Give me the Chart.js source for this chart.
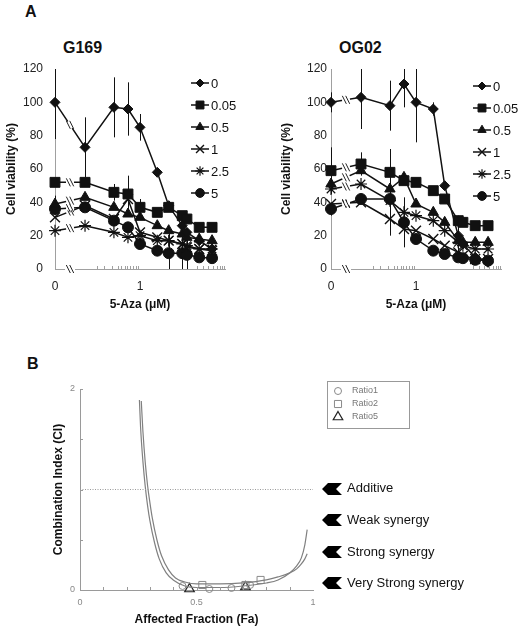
<!DOCTYPE html>
<html>
<head>
<meta charset="utf-8">
<script src="https://cdn.jsdelivr.net/npm/chart.js@4.4.1/dist/chart.umd.min.js"></script>
<style>
  body { margin: 0; background: #fff; }
  #page { position: relative; width: 524px; height: 632px; overflow: hidden; font-family: Arial, "Liberation Sans", sans-serif; color: #111; }
  canvas { position: absolute; }
  .t { position: absolute; line-height: 1; white-space: nowrap; }
  .b { font-weight: bold; }
  .note { position: absolute; left: 347px; font-size: 13px; line-height: 14px; white-space: nowrap; }
  .arrow { position: absolute; left: 322px; }
</style>
</head>
<body>
<div id="page">
  <div class="t b" style="left:25px;top:4px;font-size:16px">A</div>
  <div class="t b" style="left:63px;top:40px;font-size:16px">G169</div>
  <div class="t b" style="left:339px;top:40px;font-size:16px">OG02</div>
  <div class="t b" style="left:27px;top:356px;font-size:16px">B</div>
  <canvas id="g169" width="262" height="320" style="left:0;top:0"></canvas>
  <canvas id="og02" width="262" height="320" style="left:262px;top:0"></canvas>
  <canvas id="ci" width="420" height="262" style="left:0;top:370px"></canvas>

  <svg class="arrow" style="top:483px" width="20" height="12"><polygon points="0,6 6,0 20,0 14,6 20,12 6,12" fill="#000"/></svg>
  <svg class="arrow" style="top:514px" width="20" height="12"><polygon points="0,6 6,0 20,0 14,6 20,12 6,12" fill="#000"/></svg>
  <svg class="arrow" style="top:546px" width="20" height="12"><polygon points="0,6 6,0 20,0 14,6 20,12 6,12" fill="#000"/></svg>
  <svg class="arrow" style="top:577px" width="20" height="12"><polygon points="0,6 6,0 20,0 14,6 20,12 6,12" fill="#000"/></svg>
  <div class="note" style="top:481px">Additive</div>
  <div class="note" style="top:513px">Weak synergy</div>
  <div class="note" style="top:545px">Strong synergy</div>
  <div class="note" style="top:576px">Very Strong synergy</div>
</div>
<script>
// --- data ---------------------------------------------------------------------
// 5-Aza concentrations (uM), plotted on a log axis with a break for 0
const CONC = [0, 0.13, 0.38, 0.64, 1, 1.9, 2.9, 4.8, 5.7, 9, 14.5];
const DOSES = ["0", "0.05", "0.5", "1", "2.5", "5"];

// G169 cell viability (%) per dose of the partner drug
const G169_0    = [100, 73, 97, 96, 85, 58, 38, 26, 22, 17, 12];
const G169_005  = [52, 52, 46, 45, 37, 34, 37, 32, 30, 25, 25];
const G169_05   = [39, 43, 37, 33, 31, 26, 23, 21, 19, 18, 17];
const G169_1    = [31, 38, 30, 42, 22, 19, 17, 15, 13, 12, 11];
const G169_25   = [23, 26, 22, 19, 20, 17, 17, 15, 14, 12, 12];
const G169_5    = [36, 37, 29, 25, 15, 11, 9.5, 9.5, 8.5, 7, 6.5];
const G169_0_SD   = [22, 18, 18, 16, 8, 0, 0, 0, 0, 0, 0];
const G169_005_SD = [0, 0, 5, 11, 5, 0, 0, 0, 0, 0, 0];
const G169_05_SD  = [5, 0, 0, 0, 0, 0, 0, 0, 0, 0, 0];
const G169_1_SD   = [0, 0, 0, 0, 0, 0, 0, 0, 0, 0, 0];
const G169_25_SD  = [0, 0, 0, 0, 0, 0, 0, 0, 0, 0, 0];
const G169_5_SD   = [0, 0, 0, 0, 0, 0, 14, 14, 14, 0, 0];

// OG02 cell viability (%)
const OG02_0    = [100, 103, 98, 111, 100, 96, 50, 20, 15, 7, 4];
const OG02_005  = [59, 63, 58, 53, 52, 47, 42, 29, 28, 26, 26];
const OG02_05   = [51, 59, 48, 55, 39, 34, 28, 17, 16, 16, 16];
const OG02_1    = [39, 40, 30, 24, 23, 18, 14, 10, 8, 6, 6];
const OG02_25   = [48, 51, 41, 34, 32, 29, 23, 16, 14, 12, 12];
const OG02_5    = [36, 42, 42, 28, 18, 11, 9, 7, 6.5, 5.5, 5];
const OG02_0_SD   = [6, 19, 15, 14, 24, 4, 0, 12, 0, 0, 0];
const OG02_005_SD = [14, 7, 14, 0, 0, 0, 0, 0, 0, 0, 0];
const OG02_05_SD  = [0, 0, 0, 0, 0, 0, 0, 0, 0, 0, 0];
const OG02_1_SD   = [0, 0, 10, 0, 0, 0, 0, 0, 0, 0, 0];
const OG02_25_SD  = [0, 0, 0, 0, 0, 0, 0, 0, 0, 0, 0];
const OG02_5_SD   = [4, 0, 0, 15, 0, 0, 0, 0, 0, 0, 0];

// minor log ticks on the 5-Aza axis (uM)
const AZA_MINOR = [0.2, 0.26, 0.35, 0.44, 0.49, 0.57, 0.62, 0.69, 0.77, 0.86, 0.93,
                   8.3, 10.4, 12.5, 15, 17.4, 19.5, 21, 22.6];

// panel B: Fa-CI simulation curves and measured combination points
const CURVE1_FA = [0.255, 0.26, 0.27, 0.28, 0.29, 0.30, 0.32, 0.34, 0.37, 0.40, 0.45, 0.50, 0.60, 0.70, 0.80, 0.85, 0.90, 0.93, 0.95, 0.965, 0.975];
const CURVE1_CI = [1.89, 1.62, 1.28, 1.03, 0.84, 0.69, 0.47, 0.31, 0.17, 0.10, 0.04, 0.025, 0.025, 0.04, 0.07, 0.10, 0.17, 0.24, 0.32, 0.45, 0.60];
const CURVE2_FA = [0.263, 0.27, 0.28, 0.29, 0.30, 0.31, 0.33, 0.35, 0.38, 0.41, 0.45, 0.50, 0.60, 0.70, 0.80, 0.85, 0.90, 0.93, 0.95, 0.965, 0.975];
const CURVE2_CI = [1.88, 1.58, 1.27, 1.04, 0.87, 0.72, 0.50, 0.34, 0.20, 0.12, 0.08, 0.06, 0.06, 0.07, 0.10, 0.13, 0.17, 0.21, 0.26, 0.31, 0.36];
const RATIO1_FA = [0.44, 0.555, 0.65, 0.73];
const RATIO1_CI = [0.04, 0.01, 0.02, 0.05];
const RATIO2_FA = [0.525, 0.71, 0.775];
const RATIO2_CI = [0.05, 0.05, 0.10];
const RATIO5_FA = [0.47, 0.71];
const RATIO5_CI = [0.01, 0.03];

// --- helpers -----------------------------------------------------------------
const F = 'Arial, "Liberation Sans", sans-serif';
const XMIN = -1.37, XMAX = 1.37;             // log10 range of the 5-Aza axis
const xPos = c => (c === 0 ? XMIN : Math.log10(c));
const MARK = [
  { ps: "rectRot", r: 5, bw: 1 },
  { ps: "rect", r: 7, bw: 1 },
  { ps: "triangle", r: 6, bw: 1 },
  { ps: "crossRot", r: 7, bw: 1.4 },
  { ps: "star", r: 6, bw: 1.2 },
  { ps: "circle", r: 5.5, bw: 1 },
];

// vertical SD bars, clipped to the plot box
const errorBars = {
  id: "errorBars",
  beforeDatasetsDraw(chart) {
    const { ctx, chartArea: a, scales: { y } } = chart;
    ctx.save();
    ctx.beginPath();
    ctx.rect(a.left, a.top, a.right - a.left, a.bottom - a.top);
    ctx.clip();
    ctx.strokeStyle = "#111";
    ctx.lineWidth = 1;
    chart.data.datasets.forEach((ds, i) => {
      if (!ds.sd) return;
      const meta = chart.getDatasetMeta(i);
      ds.sd.forEach((s, j) => {
        if (!s) return;
        const px = Math.round(meta.data[j].x) + 0.5, v = ds.data[j].y;
        ctx.beginPath();
        ctx.moveTo(px, y.getPixelForValue(v - s));
        ctx.lineTo(px, y.getPixelForValue(v + s));
        ctx.stroke();
      });
    });
    ctx.restore();
  },
};

// "\\" break marks between the 0 point and the first dose, on every line and on the axis
function breakMark(ctx, x, y) {
  ctx.strokeStyle = "#222";
  ctx.lineWidth = 1;
  for (const o of [-1.7, 1.7]) {
    ctx.beginPath();
    ctx.moveTo(x + o - 2, y - 4);
    ctx.lineTo(x + o + 2, y + 4);
    ctx.stroke();
  }
}
const breaks = {
  id: "breaks",
  afterDatasetsDraw(chart) {
    const { ctx, chartArea: a } = chart;
    ctx.save();
    chart.data.datasets.forEach((ds, i) => {
      const m = chart.getDatasetMeta(i);
      const p0 = m.data[0], p1 = m.data[1];
      const mx = (p0.x + p1.x) / 2, my = (p0.y + p1.y) / 2;
      const dx = p1.x - p0.x, dy = p1.y - p0.y, L = Math.hypot(dx, dy);
      const ux = dx / L, uy = dy / L;
      ctx.strokeStyle = "#fff";
      ctx.lineWidth = 4;
      ctx.beginPath();
      ctx.moveTo(mx - 4 * ux, my - 4 * uy);
      ctx.lineTo(mx + 4 * ux, my + 4 * uy);
      ctx.stroke();
      breakMark(ctx, mx, my);
    });
    const xs = chart.scales.x;
    const bx = (xs.getPixelForValue(xPos(CONC[0])) + xs.getPixelForValue(xPos(CONC[1]))) / 2;
    ctx.fillStyle = "#fff";
    ctx.fillRect(bx - 5, a.bottom - 2, 10, 4);
    breakMark(ctx, bx, a.bottom);
    ctx.restore();
  },
};

// small inward tick marks
const minorTicks = {
  id: "minorTicks",
  afterDraw(chart, args, o) {
    const { ctx, chartArea: a, scales: { x, y } } = chart;
    ctx.save();
    ctx.strokeStyle = o.color || "#999";
    ctx.lineWidth = 1;
    (o.x || []).forEach(v => {
      const px = Math.round(x.getPixelForValue(v)) + 0.5;
      ctx.beginPath(); ctx.moveTo(px, a.bottom); ctx.lineTo(px, a.bottom - 3); ctx.stroke();
    });
    (o.y || []).forEach(v => {
      const py = Math.round(y.getPixelForValue(v)) + 0.5;
      ctx.beginPath(); ctx.moveTo(a.left, py); ctx.lineTo(a.left + 3, py); ctx.stroke();
    });
    ctx.restore();
  },
};

function marker(ctx, ds, x, y, scale) {
  const opts = { pointStyle: ds.pointStyle, radius: ds.pointRadius * scale, rotation: 0, borderWidth: ds.pointBorderWidth };
  if (Chart.helpers && Chart.helpers.drawPoint) {
    Chart.helpers.drawPoint(ctx, opts, x, y);
  } else {
    ctx.beginPath(); ctx.arc(x, y, opts.radius, 0, Math.PI * 2); ctx.fill(); ctx.stroke();
  }
}

// line + marker legend stacked at the upper right of each viability panel
const sideLegend = {
  id: "sideLegend",
  afterDraw(chart, args, o) {
    const ctx = chart.ctx;
    ctx.save();
    chart.data.datasets.forEach((ds, i) => {
      const y = o.top + i * o.step;
      ctx.strokeStyle = "#111";
      ctx.fillStyle = "#111";
      ctx.lineWidth = 1.5;
      ctx.beginPath(); ctx.moveTo(o.left, y); ctx.lineTo(o.left + 18, y); ctx.stroke();
      ctx.lineWidth = ds.pointBorderWidth;
      marker(ctx, ds, o.left + 9, y, 0.8);
      ctx.font = "13px " + F;
      ctx.textBaseline = "middle";
      ctx.textAlign = "left";
      ctx.fillStyle = "#111";
      ctx.fillText(ds.label, o.left + 20, y + 1);
    });
    ctx.restore();
  },
};

function viabilityChart(id, series, sds, lay) {
  const datasets = series.map((vals, k) => ({
    label: DOSES[k],
    data: vals.map((v, i) => ({ x: xPos(CONC[i]), y: v })),
    sd: sds[k],
    borderColor: "#111",
    backgroundColor: "#111",
    borderWidth: 1.5,
    pointStyle: MARK[k].ps,
    pointRadius: MARK[k].r,
    pointBorderWidth: MARK[k].bw,
    pointBackgroundColor: "#111",
    pointBorderColor: "#111",
    tension: 0,
    clip: false,
  }));
  return new Chart(document.getElementById(id), {
    type: "line",
    data: { datasets },
    options: {
      responsive: false,
      animation: false,
      events: [],
      layout: { padding: { left: lay.padLeft, top: 69, right: lay.padRight, bottom: 4 } },
      scales: {
        x: {
          type: "linear", min: XMIN, max: XMAX,
          afterBuildTicks: s => { s.ticks = [{ value: XMIN }, { value: 0 }]; },
          afterFit: s => { s.height = 47; },
          ticks: { autoSkip: false, maxRotation: 0, padding: 10, color: "#222", font: { size: 12, family: F },
                   callback: v => (v === 0 ? "1" : "0") },
          grid: { drawOnChartArea: false, drawTicks: false },
          border: { color: "#a0a0a0", width: 1 },
          title: { display: true, text: "5-Aza (μM)", color: "#111", font: { size: 12, weight: "bold", family: F } },
        },
        y: {
          min: 0, max: 120,
          afterFit: s => { s.width = lay.yWidth; },
          ticks: { stepSize: 20, padding: lay.yPad, color: "#222", font: { size: 12, family: F } },
          grid: { drawOnChartArea: false, drawTicks: false },
          border: { color: "#a0a0a0", width: 1 },
          title: { display: true, text: "Cell viability (%)", color: "#111", font: { size: 12, weight: "bold", family: F } },
        },
      },
      plugins: {
        legend: { display: false },
        tooltip: { enabled: false },
        minorTicks: { x: AZA_MINOR.map(xPos), color: "#a0a0a0" },
        sideLegend: lay.legend,
      },
    },
    plugins: [errorBars, breaks, minorTicks, sideLegend],
  });
}

viabilityChart("g169",
  [G169_0, G169_005, G169_05, G169_1, G169_25, G169_5],
  [G169_0_SD, G169_005_SD, G169_05_SD, G169_1_SD, G169_25_SD, G169_5_SD],
  { padLeft: 0, padRight: 37, yWidth: 55, yPad: 12, legend: { left: 191, top: 83, step: 22 } });

viabilityChart("og02",
  [OG02_0, OG02_005, OG02_05, OG02_1, OG02_25, OG02_5],
  [OG02_0_SD, OG02_005_SD, OG02_05_SD, OG02_1_SD, OG02_25_SD, OG02_5_SD],
  { padLeft: 13, padRight: 23, yWidth: 56, yPad: 4, legend: { left: 211, top: 86, step: 22 } });

// boxed legend for panel B
const boxLegend = {
  id: "boxLegend",
  afterDraw(chart, args, o) {
    const ctx = chart.ctx;
    ctx.save();
    ctx.strokeStyle = "#999";
    ctx.lineWidth = 1;
    ctx.strokeRect(o.left + 0.5, o.top + 0.5, o.width, o.height);
    let row = 0;
    chart.data.datasets.forEach(ds => {
      if (!ds.inLegend) return;
      const y = o.top + 10 + row * 13;
      ctx.strokeStyle = ds.pointBorderColor;
      ctx.fillStyle = "rgba(0,0,0,0)";
      ctx.lineWidth = ds.pointBorderWidth;
      marker(ctx, ds, o.left + 11, y, 1);
      ctx.fillStyle = "#777";
      ctx.font = "9px " + F;
      ctx.textBaseline = "middle";
      ctx.fillText(ds.label, o.left + 25, y);
      row++;
    });
    ctx.restore();
  },
};

const pts = (xs, ys) => xs.map((v, i) => ({ x: v, y: ys[i] }));
const ratioSet = (label, xs, ys, ps, r, color, bw) => ({
  label, data: pts(xs, ys), inLegend: true, showLine: false,
  pointStyle: ps, pointRadius: r, pointBorderColor: color, pointBorderWidth: bw,
  pointBackgroundColor: "rgba(0,0,0,0)", clip: false,
});

new Chart(document.getElementById("ci"), {
  type: "scatter",
  data: {
    datasets: [
      { label: "additive", data: [{ x: 0, y: 1 }, { x: 1, y: 1 }], showLine: true, pointRadius: 0,
        borderColor: "#9a9a9a", borderWidth: 1, borderDash: [1, 1.5] },
      { label: "curve1", data: pts(CURVE1_FA, CURVE1_CI), showLine: true, pointRadius: 0,
        borderColor: "#808080", borderWidth: 1.2, cubicInterpolationMode: "monotone", clip: false },
      { label: "curve2", data: pts(CURVE2_FA, CURVE2_CI), showLine: true, pointRadius: 0,
        borderColor: "#808080", borderWidth: 1.2, cubicInterpolationMode: "monotone", clip: false },
      ratioSet("Ratio1", RATIO1_FA, RATIO1_CI, "circle", 3.5, "#8a8a8a", 1),
      ratioSet("Ratio2", RATIO2_FA, RATIO2_CI, "rect", 5, "#8a8a8a", 1),
      ratioSet("Ratio5", RATIO5_FA, RATIO5_CI, "triangle", 5.5, "#222", 1.2),
    ],
  },
  options: {
    responsive: false,
    animation: false,
    events: [],
    layout: { padding: { left: 47, top: 19, right: 107, bottom: 1 } },
    scales: {
      x: {
        type: "linear", min: 0, max: 1,
        afterBuildTicks: s => { s.ticks = [{ value: 0 }, { value: 0.5 }, { value: 1 }]; },
        afterFit: s => { s.height = 41; },
        ticks: { autoSkip: false, maxRotation: 0, padding: 7, color: "#888", font: { size: 9, family: F },
                 callback: v => String(v) },
        grid: { drawOnChartArea: false, drawTicks: false },
        border: { color: "#9a9a9a", width: 1 },
        title: { display: true, text: "Affected Fraction (Fa)", color: "#111", font: { size: 12, weight: "bold", family: F } },
      },
      y: {
        min: 0, max: 2,
        afterBuildTicks: s => { s.ticks = [{ value: 0 }, { value: 2 }]; },
        afterFit: s => { s.width = 33; },
        ticks: { padding: 5, color: "#888", font: { size: 9, family: F }, callback: v => String(v) },
        grid: { drawOnChartArea: false, drawTicks: false },
        border: { color: "#9a9a9a", width: 1 },
        title: { display: true, text: "Combination Index (CI)", color: "#111", font: { size: 12, weight: "bold", family: F } },
      },
    },
    plugins: {
      legend: { display: false },
      tooltip: { enabled: false },
      minorTicks: { x: [0.1, 0.2, 0.3, 0.4, 0.5, 0.6, 0.7, 0.8, 0.9], y: [0.5, 1, 1.5, 2], color: "#9a9a9a" },
      boxLegend: { left: 327, top: 11, width: 82, height: 47 },
    },
  },
  plugins: [minorTicks, boxLegend],
});
</script>
</body>
</html>
